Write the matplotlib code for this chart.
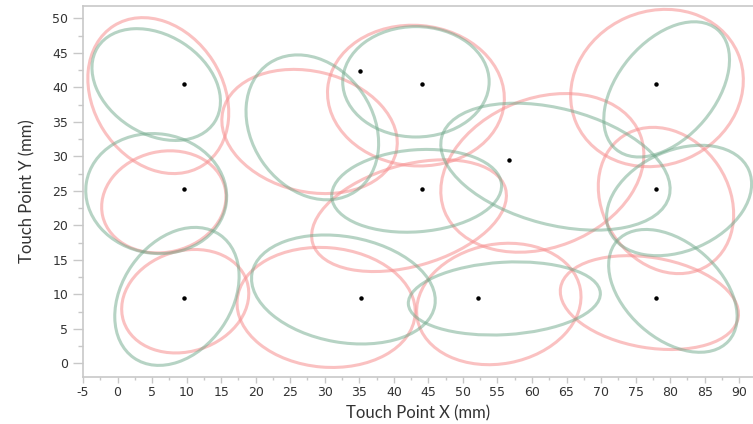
import matplotlib
matplotlib.use('Agg')
import matplotlib.pyplot as plt
import numpy as np
from matplotlib.patches import Ellipse
from matplotlib.ticker import MultipleLocator

# target points (mm)
target_x = [9.6, 9.6, 9.6, 35.1, 44.1, 44.1, 56.7, 78.0, 78.0, 78.0, 35.3, 52.2]
target_y = [40.5, 25.3, 9.5, 42.4, 40.5, 25.3, 29.4, 40.5, 25.3, 9.5, 9.5, 9.5]

# touch spread ellipses: centre, half width, half height, correlation
red_cx = [5.9, 6.7, 9.8, 27.8, 43.2, 42.2, 61.5, 78.1, 79.4, 77.0, 30.2, 55.2]
red_cy = [38.8, 23.4, 9.0, 33.6, 38.8, 21.4, 27.6, 39.9, 23.6, 8.8, 8.1, 8.6]
red_hw = [10.2, 9.0, 9.2, 12.7, 12.8, 14.1, 14.7, 12.5, 9.8, 12.9, 12.9, 11.9]
red_hh = [11.3, 7.4, 7.5, 9.0, 10.2, 8.1, 11.5, 11.4, 10.6, 6.8, 8.7, 8.8]
red_r = [-0.22, 0.10, 0.15, -0.18, -0.04, 0.36, 0.23, 0.10, -0.19, -0.24, -0.07, 0.12]

green_cx = [5.6, 5.6, 8.6, 28.2, 43.2, 43.3, 63.4, 79.5, 81.3, 80.4, 32.7, 56.0]
green_cy = [40.4, 24.6, 9.7, 34.2, 40.8, 25.0, 28.5, 39.7, 23.6, 10.5, 10.7, 9.4]
green_hw = [9.3, 10.2, 9.0, 9.6, 10.6, 12.3, 16.6, 9.1, 10.5, 9.3, 13.3, 13.9]
green_hh = [8.1, 8.7, 10.0, 10.5, 8.0, 6.0, 9.2, 9.8, 8.0, 8.9, 7.9, 5.3]
green_r = [-0.30, -0.05, 0.29, -0.22, 0.0, 0.12, -0.35, 0.44, 0.30, -0.42, -0.20, 0.13]

plt.rcParams['axes.unicode_minus'] = False
plt.rcParams['font.family'] = 'DejaVu Sans'


def add_ellipses(ax, cx, cy, hw, hh, r, color, alpha):
    for x0, y0, w, h, c in zip(cx, cy, hw, hh, r):
        cov = np.array([[w * w, c * w * h], [c * w * h, h * h]])
        vals, vecs = np.linalg.eigh(cov)
        ang = np.degrees(np.arctan2(vecs[1, 1], vecs[0, 1]))
        e = Ellipse((x0, y0), 2 * np.sqrt(vals[1]), 2 * np.sqrt(vals[0]),
                    angle=ang, fill=False, edgecolor=color, alpha=alpha, lw=2.2)
        ax.add_patch(e)


fig = plt.figure(figsize=(7.53, 4.24), dpi=100)
ax = fig.add_axes([83 / 753, 47.3 / 424, 670 / 753, 371 / 424])

add_ellipses(ax, red_cx, red_cy, red_hw, red_hh, red_r, '#f78f8f', 0.55)
add_ellipses(ax, green_cx, green_cy, green_hw, green_hh, green_r, '#6fa88a', 0.5)
ax.plot(target_x, target_y, 'o', color='black', markersize=2.2, ls='none')

ax.set_xlim(-5, 92)
ax.set_ylim(-1.94, 51.83)

ax.xaxis.set_major_locator(MultipleLocator(5))
ax.xaxis.set_minor_locator(MultipleLocator(2.5))
ax.yaxis.set_major_locator(MultipleLocator(5))
ax.yaxis.set_minor_locator(MultipleLocator(2.5))
ax.set_xticks(np.arange(-5, 91, 5))
ax.set_yticks(np.arange(0, 51, 5))

for s in ['left', 'bottom', 'top']:
    ax.spines[s].set_color('#c8c8c8')
    ax.spines[s].set_linewidth(1.2)
ax.spines['right'].set_visible(False)

ax.tick_params(axis='y', which='major', length=7, width=1, color='#c8c8c8',
               labelsize=9, labelcolor='#333333', pad=3.5)
ax.tick_params(axis='y', which='minor', length=3.6, width=1, color='#c8c8c8')
ax.tick_params(axis='x', which='major', length=4, width=1, color='#c8c8c8',
               labelsize=9, labelcolor='#333333', pad=3)
ax.tick_params(axis='x', which='minor', length=2.5, width=1, color='#c8c8c8')

ax.set_xlabel('Touch Point X (mm)', fontsize=12, color='#333333',
              family='Lato', labelpad=4)
ax.set_ylabel('Touch Point Y (mm)', fontsize=12, color='#333333',
              family='Lato', labelpad=12)

fig.savefig('out.png', dpi=100)
